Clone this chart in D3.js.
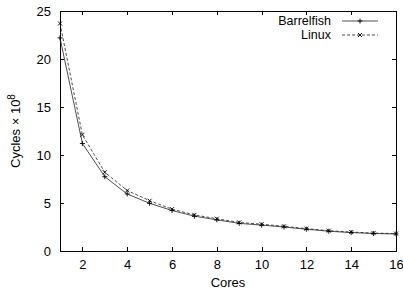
<!DOCTYPE html>
<meta charset="utf-8">
<style>
    body { margin: 0; background: #fff; }
    text { font-family: 'Liberation Sans', Arial, sans-serif; font-size: 13px; fill: #000; }
    .axis line { stroke: #000; shape-rendering: crispEdges; }
</style>
<body>
<svg id="chart"></svg>
<script src="https://cdn.jsdelivr.net/npm/d3@7"></script>
<script>
    var cores = [1, 2, 3, 4, 5, 6, 7, 8, 9, 10, 11, 12, 13, 14, 15, 16];
    var barrelfish = [22.2, 11.2, 7.74, 5.94, 4.97, 4.22, 3.63, 3.25, 2.88, 2.7, 2.5, 2.27, 2.06, 1.92, 1.82, 1.78];
    var linux = [23.7, 12.1, 8.2, 6.3, 5.24, 4.36, 3.76, 3.36, 2.98, 2.79, 2.57, 2.33, 2.12, 1.97, 1.87, 1.81];
    var xTicks = [2, 4, 6, 8, 10, 12, 14, 16];
    var yTicks = [0, 5, 10, 15, 20, 25];

    var W = 403, H = 289;
    var margin = { top: 11, right: 7, bottom: 38, left: 60 };
    var width = W - margin.left - margin.right,
        height = H - margin.top - margin.bottom;

    var svg = d3.select("#chart").attr("width", W).attr("height", H)
        .append("g").attr("transform", "translate(" + margin.left + "," + margin.top + ")");

    var x = d3.scaleLinear().domain([1, 16]).range([0, width]);
    var y = d3.scaleLinear().domain([0, 25]).range([height, 0]);

    // axes, ticks pointing inward, mirrored on top and right
    svg.append("g").attr("class", "axis").attr("transform", "translate(0," + height + ")")
        .call(d3.axisBottom(x).tickValues(xTicks).tickSizeInner(-4).tickSizeOuter(0).tickPadding(9));
    svg.append("g").attr("class", "axis")
        .call(d3.axisTop(x).tickValues(xTicks).tickSizeInner(-4).tickSizeOuter(0).tickFormat(""));
    svg.append("g").attr("class", "axis")
        .call(d3.axisLeft(y).tickValues(yTicks).tickSizeInner(-4).tickSizeOuter(0).tickPadding(9));
    svg.append("g").attr("class", "axis").attr("transform", "translate(" + width + ",0)")
        .call(d3.axisRight(y).tickValues(yTicks).tickSizeInner(-4).tickSizeOuter(0).tickFormat(""));
    svg.selectAll(".axis text").style("font-size", "13px").style("font-family", "'Liberation Sans', Arial, sans-serif").attr("fill", "#000");
    svg.selectAll(".axis path").remove();
    svg.append("rect").attr("width", width).attr("height", height)
        .attr("fill", "none").attr("stroke", "#000").attr("shape-rendering", "crispEdges");

    var line = d3.line().x(function (d) { return x(d[0]); }).y(function (d) { return y(d[1]); });

    function plus(g, cx, cy) {
        g.append("path").attr("d", "M" + (cx - 2.5) + "," + cy + "h5M" + cx + "," + (cy - 2.5) + "v5")
            .attr("stroke", "#000").attr("stroke-width", 0.9);
    }
    function cross(g, cx, cy) {
        g.append("path").attr("d", "M" + (cx - 2) + "," + (cy - 2) + "l4,4M" + (cx - 2) + "," + (cy + 2) + "l4,-4")
            .attr("stroke", "#000").attr("stroke-width", 0.9);
    }

    var bData = cores.map(function (c, i) { return [c, barrelfish[i]]; });
    var lData = cores.map(function (c, i) { return [c, linux[i]]; });

    svg.append("path").datum(bData).attr("d", line).attr("fill", "none").attr("stroke", "#222").attr("stroke-width", 0.8);
    svg.append("path").datum(lData).attr("d", line).attr("fill", "none").attr("stroke", "#222")
        .attr("stroke-width", 0.8).attr("stroke-dasharray", "3,2");
    var marks = svg.append("g");
    bData.forEach(function (d) { plus(marks, x(d[0]), y(d[1])); });
    lData.forEach(function (d) { cross(marks, x(d[0]), y(d[1])); });

    // legend
    var leg = svg.append("g");
    var names = ["Barrelfish", "Linux"];
    names.forEach(function (n, i) {
        var ly = 10 + i * 14;
        leg.append("text").attr("x", 271).attr("y", ly + 4).attr("text-anchor", "end")
            .style("font-size", "12.5px").text(n);
        var p = leg.append("line").attr("x1", 282).attr("x2", 318).attr("y1", ly).attr("y2", ly)
            .attr("stroke", "#222").attr("stroke-width", 0.8);
        if (i == 1) { p.attr("stroke-dasharray", "3,2"); cross(leg, 300, ly); }
        else { plus(leg, 300, ly); }
    });

    // axis titles
    svg.append("text").attr("x", width / 2).attr("y", height + 36).attr("text-anchor", "middle").text("Cores");
    var yl = svg.append("text").attr("transform", "translate(-40," + (height / 2) + ") rotate(-90)")
        .attr("text-anchor", "middle");
    yl.append("tspan").text("Cycles \u00d7 10");
    yl.append("tspan").attr("dy", -5).style("font-size", "10px").text("8");
</script>
</body>
